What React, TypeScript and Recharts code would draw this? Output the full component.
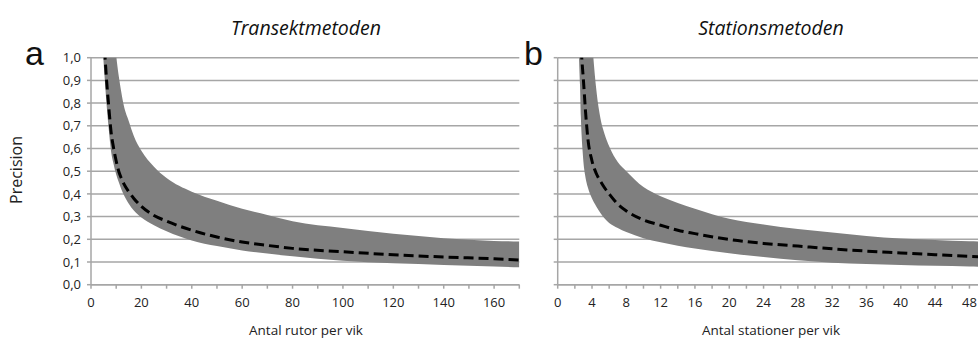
import React from 'react';
import { ComposedChart, Area, Line, XAxis, YAxis, CartesianGrid } from 'recharts';

// Panel a: transect method, number of squares per bay
const nA = [4.5, 5, 5.5, 6, 7, 8, 9, 10, 11, 12, 13, 15, 17, 20, 25, 30, 40, 50, 60, 70, 80, 100, 120, 140, 160, 170];
const lowA = [1.1, 0.98, 0.9, 0.82, 0.69, 0.585, 0.53, 0.485, 0.452, 0.422, 0.396, 0.357, 0.327, 0.296, 0.262, 0.235, 0.195, 0.17, 0.151, 0.137, 0.125, 0.105, 0.094, 0.087, 0.08, 0.077];
const meanA = [1.3, 1.15, 1.02, 0.93, 0.79, 0.67, 0.6, 0.545, 0.5, 0.47, 0.445, 0.41, 0.38, 0.345, 0.305, 0.28, 0.24, 0.21, 0.188, 0.173, 0.16, 0.145, 0.132, 0.122, 0.114, 0.109];
const highA = [2.5, 2.2, 2.0, 1.8, 1.5, 1.3, 1.13, 1.01, 0.92, 0.85, 0.79, 0.72, 0.655, 0.59, 0.52, 0.47, 0.41, 0.37, 0.335, 0.307, 0.28, 0.25, 0.224, 0.205, 0.193, 0.19];

// Panel b: station method, number of stations per bay
const nB = [2.4, 2.5, 2.6, 2.7, 2.8, 2.9, 3, 3.25, 3.5, 4, 4.5, 5, 5.5, 6, 7, 8, 10, 12, 14, 16, 20, 24, 28, 32, 36, 40, 44, 48, 50];
const lowB = [1.1, 0.98, 0.88, 0.74, 0.65, 0.59, 0.54, 0.47, 0.43, 0.38, 0.345, 0.315, 0.29, 0.272, 0.25, 0.232, 0.205, 0.187, 0.172, 0.16, 0.138, 0.122, 0.108, 0.097, 0.091, 0.087, 0.083, 0.08, 0.078];
const meanB = [1.3, 1.2, 1.12, 1.05, 1.0, 0.95, 0.9, 0.76, 0.65, 0.545, 0.49, 0.455, 0.425, 0.4, 0.355, 0.325, 0.285, 0.262, 0.24, 0.225, 0.199, 0.182, 0.17, 0.158, 0.148, 0.14, 0.132, 0.125, 0.122];
const highB = [2.5, 2.4, 2.3, 2.2, 2.1, 2.0, 1.9, 1.7, 1.4, 1.08, 0.86, 0.73, 0.66, 0.61, 0.54, 0.5, 0.43, 0.39, 0.36, 0.335, 0.29, 0.265, 0.245, 0.23, 0.215, 0.203, 0.197, 0.191, 0.19];

const yTicks = [0, 0.1, 0.2, 0.3, 0.4, 0.5, 0.6, 0.7, 0.8, 0.9, 1.0];
const xTicksA = [0, 10, 20, 30, 40, 50, 60, 70, 80, 90, 100, 110, 120, 130, 140, 150, 160, 170];
const xTicksB = [0, 2, 4, 6, 8, 10, 12, 14, 16, 18, 20, 22, 24, 26, 28, 30, 32, 34, 36, 38, 40, 42, 44, 46, 48];

const titleA = 'Transektmetoden';
const titleB = 'Stationsmetoden';
const xLabelA = 'Antal rutor per vik';
const xLabelB = 'Antal stationer per vik';
const yLabel = 'Precision';

const build = (n: number[], low: number[], mean: number[], high: number[]) =>
  n.map((v, i) => ({ n: v, band: [low[i], high[i]], mean: mean[i] }));

const dataA = build(nA, lowA, meanA, highA);
const dataB = build(nB, lowB, meanB, highB);

const FONT = '"Open Sans", sans-serif';
const GRID = '#a6a6a6';
const BAND = '#7f7f7f';
const tickStyle = { fill: '#222', fontSize: 13, fontFamily: FONT };

const PLOT_TOP = 57.7;
const PLOT_BOTTOM = 284.7;
const CHART_H = 338;
const X_AXIS_H = 30;

function Panel({ data, domain, xTicks, every, yLabels, width, yWidth, right }: any) {
  return (
    <ComposedChart
      width={width}
      height={CHART_H}
      data={data}
      margin={{ top: PLOT_TOP, right, left: 0, bottom: CHART_H - PLOT_BOTTOM - X_AXIS_H }}
    >
      <CartesianGrid vertical={false} stroke={GRID} strokeWidth={1.5} />
      <XAxis
        type="number"
        dataKey="n"
        domain={domain}
        ticks={xTicks}
        interval={0}
        allowDataOverflow
        height={X_AXIS_H}
        stroke={GRID}
        strokeWidth={1.5}
        tickSize={4}
        tickMargin={9}
        tick={tickStyle}
        tickFormatter={(v: number) => (v % every === 0 ? String(v) : '')}
      />
      <YAxis
        type="number"
        domain={[0, 1]}
        ticks={yTicks}
        interval={0}
        allowDataOverflow
        width={yWidth}
        stroke={GRID}
        strokeWidth={1.5}
        tickSize={4}
        tickMargin={6}
        tick={tickStyle}
        tickFormatter={(v: number) => (yLabels ? v.toFixed(1).replace('.', ',') : '')}
      />
      <Area
        type="monotone"
        dataKey="band"
        stroke="none"
        fill={BAND}
        fillOpacity={1}
        isAnimationActive={false}
      />
      <Line
        type="monotone"
        dataKey="mean"
        stroke="#000"
        strokeWidth={3}
        strokeDasharray="10 5"
        dot={false}
        isAnimationActive={false}
      />
    </ComposedChart>
  );
}

export default function App() {
  return (
    <div style={{ position: 'fixed', left: 0, top: 0, width: 978, height: 338, overflow: 'hidden', background: '#fff' }}>
      <div style={{ position: 'absolute', left: 0, top: 0 }}>
        <Panel data={dataA} domain={[0, 170]} xTicks={xTicksA} every={20} yLabels width={525} yWidth={91} right={5.7} />
      </div>
      <div style={{ position: 'absolute', left: 520, top: 0 }}>
        <Panel data={dataB} domain={[0, 49]} xTicks={xTicksB} every={4} yLabels={false} width={458} yWidth={37.7} right={0} />
      </div>
      <svg width={978} height={338} style={{ position: 'absolute', left: 0, top: 0, pointerEvents: 'none' }}>
        <text x={306} y={35} textAnchor="middle" fontFamily={FONT} fontStyle="italic" fontSize={19.5} fill="#111">{titleA}</text>
        <text x={771} y={35} textAnchor="middle" fontFamily={FONT} fontStyle="italic" fontSize={19.5} fill="#111">{titleB}</text>
        <text x={25} y={65} fontFamily='"Liberation Sans", Arial, sans-serif' fontSize={34} fill="#111">a</text>
        <text x={524} y={64.5} fontFamily='"Liberation Sans", Arial, sans-serif' fontSize={34} fill="#111">b</text>
        <text x={306} y={335} textAnchor="middle" fontFamily={FONT} fontSize={13.5} fill="#222">{xLabelA}</text>
        <text x={771} y={335} textAnchor="middle" fontFamily={FONT} fontSize={13.5} fill="#222">{xLabelB}</text>
        <text x={22} y={170} textAnchor="middle" fontFamily={FONT} fontSize={16} fill="#222" transform="rotate(-90 22 170)">{yLabel}</text>
      </svg>
    </div>
  );
}
